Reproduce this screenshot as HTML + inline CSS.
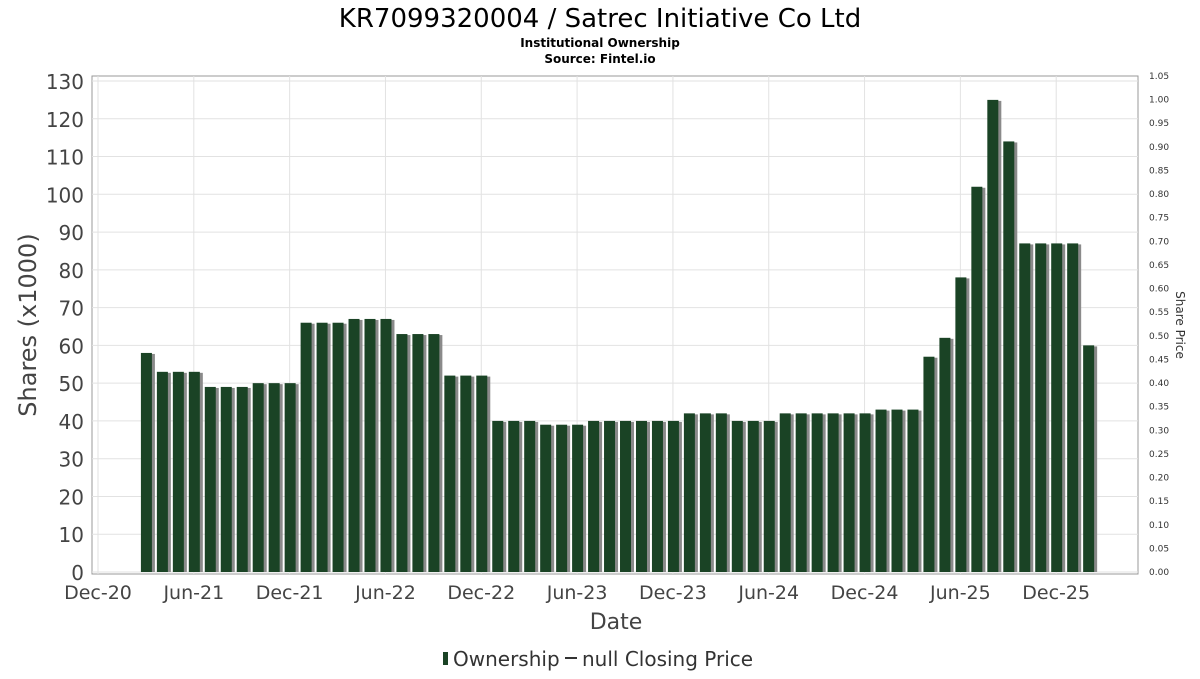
<!DOCTYPE html>
<html><head><meta charset="utf-8"><style>
body{margin:0;background:#fff;font-family:"DejaVu Sans","Liberation Sans",sans-serif}
</style></head><body>
<svg id="c" width="1200" height="675" xmlns="http://www.w3.org/2000/svg">
<text x="600" y="27" text-anchor="middle" font-size="26" fill="#000">KR7099320004 / Satrec Initiative Co Ltd</text>
<text x="600" y="47" text-anchor="middle" font-size="12" font-weight="bold">Institutional Ownership</text>
<text x="600" y="63" text-anchor="middle" font-size="12" font-weight="bold">Source: Fintel.io</text>
<rect x="92" y="76" width="1046" height="498" fill="#fff" stroke="#999"/>
<g id="grid"></g><g id="bars"></g><g id="axes"></g>
<text x="0" y="0" transform="translate(36,325) rotate(-90)" text-anchor="middle" font-size="24" fill="#444">Shares (x1000)</text>
<text x="0" y="0" transform="translate(1176,325) rotate(90)" text-anchor="middle" font-size="12" fill="#333">Share Price</text>
<text x="616" y="629" text-anchor="middle" font-size="22" fill="#444">Date</text>
<g>
<rect x="443" y="652" width="5" height="13" fill="#1a4325"/>
<text x="453" y="666" font-size="20" fill="#333">Ownership</text>
<line x1="565" y1="658" x2="577" y2="658" stroke="#333" stroke-width="2"/>
<text x="582" y="666" font-size="20" fill="#333">null Closing Price</text>
</g>
</svg>
<script>
const values=[58,53,53,53,49,49,49,50,50,50,66,66,66,67,67,67,63,63,63,52,52,52,40,40,40,39,39,39,40,40,40,40,40,40,42,42,42,40,40,40,42,42,42,42,42,42,43,43,43,57,62,78,102,125,114,87,87,87,87,60];
const firstMonth=3; // months after Dec-20
const xTickLabels=["Dec-20","Jun-21","Dec-21","Jun-22","Dec-22","Jun-23","Dec-23","Jun-24","Dec-24","Jun-25","Dec-25"];
const yTicks=[0,10,20,30,40,50,60,70,80,90,100,110,120,130];
const rTicks=[0,0.05,0.1,0.15,0.2,0.25,0.3,0.35,0.4,0.45,0.5,0.55,0.6,0.65,0.7,0.75,0.8,0.85,0.9,0.95,1,1.05];
const NS="http://www.w3.org/2000/svg";
const y=v=>572-v*(491/130);
const yr=v=>572-v*(496/1.05);
const x=m=>98+m*15.97;
function el(t,a,p){const e=document.createElementNS(NS,t);for(const k in a)e.setAttribute(k,a[k]);document.getElementById(p).appendChild(e);return e;}
yTicks.forEach(v=>{
 const g=el('line',{x1:92,x2:1138,y1:y(v),y2:y(v),stroke:'#e2e2e2'},'grid');
 
 
 const t=el('text',{x:84,y:y(v)+8,'text-anchor':'end','font-size':20,fill:'#444'},'axes');t.textContent=v;
 
 
});
xTickLabels.forEach((l,i)=>{
 const xx=x(i*6);
 const g=el('line',{x1:xx,x2:xx,y1:76,y2:574,stroke:'#e2e2e2'},'grid');
 
 
 const t=el('text',{x:xx,y:599,'text-anchor':'middle','font-size':19,fill:'#444'},'axes');t.textContent=l;
 
 
});
rTicks.forEach(v=>{
 const t=el('text',{x:1149,y:yr(v)+3,'font-size':9,fill:'#333'},'axes');t.textContent=v.toFixed(2);
 
 
});
values.forEach((v,i)=>{
 const cx=x(firstMonth+i)+1;
 const s=el('rect',{x:cx-4,y:y(v)+1,width:12,height:572-y(v)-1,fill:'#8a8a8a'},'bars');
 
 
 const b=el('rect',{x:cx-6,y:y(v),width:11,height:572-y(v),fill:'#1a4325'},'bars');
 
 
});
</script>
</body></html>
